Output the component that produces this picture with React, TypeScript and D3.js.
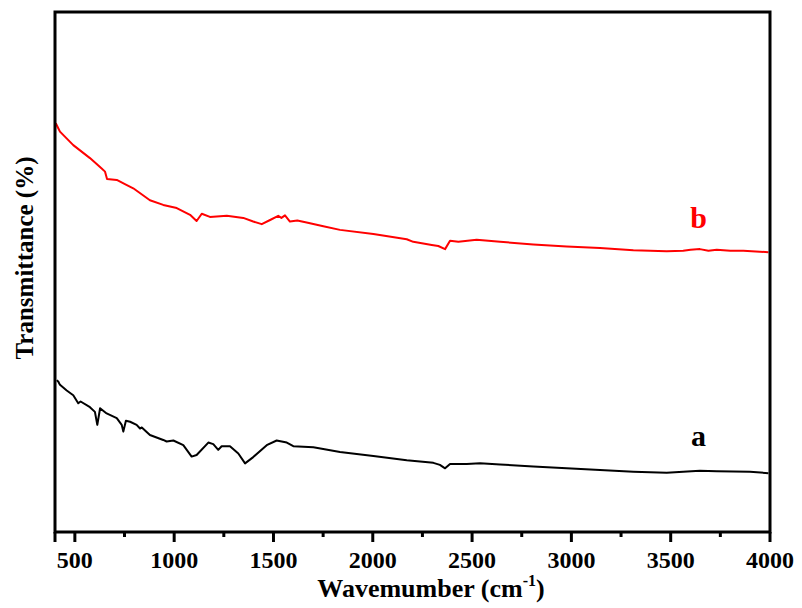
import React, { useEffect, useRef } from 'react';
import * as d3 from 'd3';

// FTIR spectra, wavenumber (cm-1) vs transmittance (arbitrary %)
const waveB = [404, 417, 425, 492, 576, 635, 652, 662, 711, 752, 794, 878, 945, 1013, 1080, 1113, 1139, 1180, 1265, 1348, 1398, 1441, 1483, 1524, 1540, 1558, 1583, 1620, 1667, 1751, 1835, 2003, 2171, 2204, 2297, 2330, 2364, 2389, 2431, 2523, 2641, 2808, 2976, 3144, 3312, 3480, 3563, 3600, 3647, 3690, 3732, 3800, 3866, 3992];
const transB = [78.6, 77.6, 77.0, 74.4, 71.9, 69.9, 69.3, 67.9, 67.7, 66.9, 66.1, 63.8, 62.9, 62.3, 61.0, 59.8, 61.2, 60.6, 60.8, 60.4, 59.7, 59.2, 60.0, 60.8, 60.4, 60.9, 59.7, 59.9, 59.5, 58.8, 58.1, 57.3, 56.3, 55.8, 55.2, 55.0, 54.4, 56.0, 55.8, 56.2, 55.8, 55.3, 54.9, 54.6, 54.2, 54.0, 54.1, 54.3, 54.4, 54.1, 54.3, 54.1, 54.1, 53.8];

const waveA = [409, 417, 425, 459, 492, 517, 529, 576, 601, 613, 627, 660, 711, 736, 744, 757, 778, 811, 828, 837, 878, 945, 962, 996, 1046, 1088, 1113, 1172, 1197, 1222, 1239, 1281, 1323, 1357, 1398, 1466, 1516, 1567, 1600, 1701, 1835, 2003, 2171, 2305, 2338, 2364, 2389, 2473, 2540, 2641, 2808, 2976, 3144, 3312, 3480, 3563, 3647, 3732, 3899, 3992];
const transA = [29.2, 28.9, 28.3, 27.2, 26.3, 24.75, 25.1, 24.0, 23.1, 20.6, 23.8, 22.8, 21.9, 20.6, 19.3, 21.4, 21.2, 20.6, 19.9, 20.1, 18.65, 17.7, 17.4, 17.6, 16.7, 14.5, 14.8, 17.2, 16.9, 15.8, 16.5, 16.5, 15.1, 13.2, 14.4, 16.7, 17.6, 17.2, 16.5, 16.3, 15.4, 14.6, 13.8, 13.3, 12.9, 12.25, 13.1, 13.1, 13.2, 13.0, 12.6, 12.25, 11.9, 11.6, 11.4, 11.6, 11.8, 11.7, 11.6, 11.3];

const majorTicks = [500, 1000, 1500, 2000, 2500, 3000, 3500, 4000];
const minorTicks = [750, 1250, 1750, 2250, 2750, 3250, 3750];

const seriesLabels = [
  { name: 'b', color: '#ff0000', wave: 3640, value: 58.5 },
  { name: 'a', color: '#000000', wave: 3640, value: 16.5 },
];

const App = () => {
  const ref = useRef<SVGSVGElement>(null);

  useEffect(() => {
    const svg = d3.select(ref.current);
    svg.selectAll('*').remove();

    const left = 55, right = 770, top = 12, bottom = 532;
    const font = '"Liberation Serif", "Times New Roman", serif';

    const x = d3.scaleLinear().domain([400, 4000]).range([left, right]);
    const y = d3.scaleLinear().domain([0, 100]).range([bottom, top]);

    const line = d3.line<[number, number]>()
      .x(d => x(d[0]))
      .y(d => y(d[1]));

    const dataB = waveB.map((w, i) => [w, transB[i]] as [number, number]);
    const dataA = waveA.map((w, i) => [w, transA[i]] as [number, number]);

    svg.append('path')
      .datum(dataB)
      .attr('fill', 'none')
      .attr('stroke', '#ff0000')
      .attr('stroke-width', 2)
      .attr('stroke-linejoin', 'round')
      .attr('d', line);

    svg.append('path')
      .datum(dataA)
      .attr('fill', 'none')
      .attr('stroke', '#000')
      .attr('stroke-width', 2)
      .attr('stroke-linejoin', 'round')
      .attr('d', line);

    // frame
    svg.append('rect')
      .attr('x', left)
      .attr('y', top)
      .attr('width', right - left)
      .attr('height', bottom - top)
      .attr('fill', 'none')
      .attr('stroke', '#000')
      .attr('stroke-width', 3);

    // bottom axis ticks
    const axis = svg.append('g').attr('transform', `translate(0,${bottom})`);
    axis.selectAll('.major')
      .data(majorTicks)
      .enter()
      .append('line')
      .attr('x1', d => x(d))
      .attr('x2', d => x(d))
      .attr('y1', 0)
      .attr('y2', 10)
      .attr('stroke', '#000')
      .attr('stroke-width', 3);
    axis.selectAll('.minor')
      .data(minorTicks)
      .enter()
      .append('line')
      .attr('x1', d => x(d))
      .attr('x2', d => x(d))
      .attr('y1', 0)
      .attr('y2', 5)
      .attr('stroke', '#000')
      .attr('stroke-width', 3);
    // left end tick
    axis.append('line')
      .attr('x1', left).attr('x2', left)
      .attr('y1', 0).attr('y2', 10)
      .attr('stroke', '#000').attr('stroke-width', 3);

    axis.selectAll('.lbl')
      .data(majorTicks)
      .enter()
      .append('text')
      .attr('x', d => x(d))
      .attr('y', 36)
      .attr('text-anchor', 'middle')
      .style('font-family', font)
      .style('font-weight', 'bold')
      .style('font-size', '24px')
      .text(d => d);

    // x title
    const title = svg.append('text')
      .attr('x', 431)
      .attr('y', 597)
      .attr('text-anchor', 'middle')
      .style('font-family', font)
      .style('font-weight', 'bold')
      .style('font-size', '26px');
    title.append('tspan').text('Wavemumber (cm');
    title.append('tspan').attr('dy', -11).style('font-size', '16px').text('-1');
    title.append('tspan').attr('dy', 11).text(')');

    // y title
    svg.append('text')
      .attr('transform', `translate(33,258) rotate(-90)`)
      .attr('text-anchor', 'middle')
      .style('font-family', font)
      .style('font-weight', 'bold')
      .style('font-size', '25px')
      .text('Transmittance (%)');

    svg.selectAll('.series-label')
      .data(seriesLabels)
      .enter()
      .append('text')
      .attr('x', d => x(d.wave))
      .attr('y', d => y(d.value))
      .attr('text-anchor', 'middle')
      .attr('fill', d => d.color)
      .style('font-family', font)
      .style('font-weight', 'bold')
      .style('font-size', '30px')
      .text(d => d.name);
  }, []);

  return (
    <svg
      ref={ref}
      width={802}
      height={608}
      style={{ position: 'absolute', left: 0, top: 0, background: '#fff' }}
    />
  );
};

export default App;
